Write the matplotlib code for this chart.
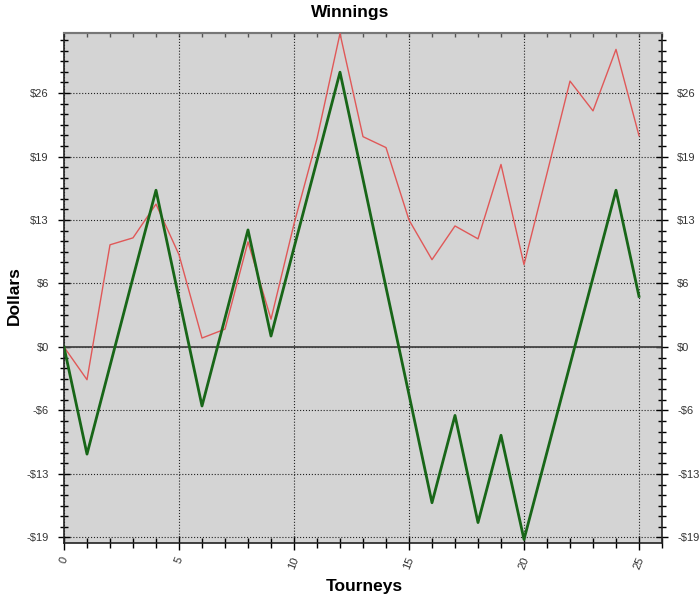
import matplotlib.pyplot as plt
from matplotlib.ticker import MultipleLocator, FixedLocator

plt.rcParams['font.family'] = ['Liberation Sans', 'DejaVu Sans']

tourneys = list(range(26))
# thin red line
red_vals = [0, -3.3, 10.3, 11.0, 14.4, 9.3, 0.9, 1.8, 10.6, 2.8,
            12.4, 21.0, 31.6, 21.2, 20.1, 12.8, 8.8, 12.2, 10.9, 18.4,
            8.3, 17.5, 26.8, 23.8, 30.0, 21.3]
# thick green line
green_vals = [0, -10.8, -1.9, 7.0, 15.8, 4.9, -5.95, 2.9, 11.8, 1.1,
              10.0, 18.8, 27.7, 16.9, 6.0, -4.8, -15.7, -6.9, -17.7, -8.9,
              -19.4, -10.6, -1.8, 7.0, 15.8, 5.1]

ytick_vals = [-19.2, -12.8, -6.4, 0, 6.4, 12.8, 19.2, 25.6]
ytick_labels = ['-$19', '-$13', '-$6', '$0', '$6', '$13', '$19', '$26']
xtick_vals = [0, 5, 10, 15, 20, 25]

fig = plt.figure(figsize=(7, 5.96), dpi=100)
ax = fig.add_axes([64/700, 53/596, 598/700, 510/596])
ax.set_facecolor('#d4d4d4')

ax.plot(tourneys, red_vals, color='#e05858', lw=1.0, zorder=3)
ax.plot(tourneys, green_vals, color='#186618', lw=2.0, zorder=4)
ax.axhline(0, color='#454545', lw=1.3, zorder=2)

ax.set_xlim(0, 26)
ax.set_ylim(-19.76, 31.65)

ax.yaxis.set_major_locator(FixedLocator(ytick_vals))
ax.set_yticklabels(ytick_labels)
ax.yaxis.set_minor_locator(MultipleLocator(6.4 / 6))
ax.set_xticks(xtick_vals)
ax.set_xticklabels([str(v) for v in xtick_vals], rotation=68)
ax.xaxis.set_minor_locator(MultipleLocator(1))

ax.grid(which='major', linestyle=':', color='#222222', linewidth=0.8, zorder=1)

ax.tick_params(axis='y', which='major', direction='inout', length=8, width=1.0,
               left=True, right=True, labelleft=True, labelright=True,
               labelsize=8, labelcolor='#333333', pad=7)
ax.tick_params(axis='y', which='minor', direction='inout', length=6, width=1.0,
               left=True, right=True)
ax.tick_params(axis='x', which='major', direction='inout', length=10, width=1.0,
               bottom=True, top=False, labelsize=8, labelcolor='#333333', pad=4)
ax.tick_params(axis='x', which='minor', direction='inout', length=7, width=1.0,
               bottom=True, top=False)

# small inward ticks along the top edge
top = ax.secondary_xaxis('top')
top.xaxis.set_major_locator(MultipleLocator(1))
top.tick_params(direction='in', length=3, width=1.0, color='#555555',
                labeltop=False)
top.spines['top'].set_color('#777777')
top.spines['top'].set_linewidth(1.5)

for side in ['left', 'right', 'bottom']:
    ax.spines[side].set_color('#222222')
    ax.spines[side].set_linewidth(1.2)
ax.spines['top'].set_color('#777777')
ax.spines['top'].set_linewidth(1.5)

fig.text(0.5, 1 - 12/596, 'Winnings', ha='center', va='center',
         fontsize=12.5, fontweight='bold')
fig.text(14/700, 1 - 296/596, 'Dollars', ha='center', va='center',
         rotation=90, fontsize=12.5, fontweight='bold')
fig.text(364/700, 1 - 586/596, 'Tourneys', ha='center', va='center',
         fontsize=12.5, fontweight='bold')

fig.savefig('out.png', dpi=100, facecolor='white')
